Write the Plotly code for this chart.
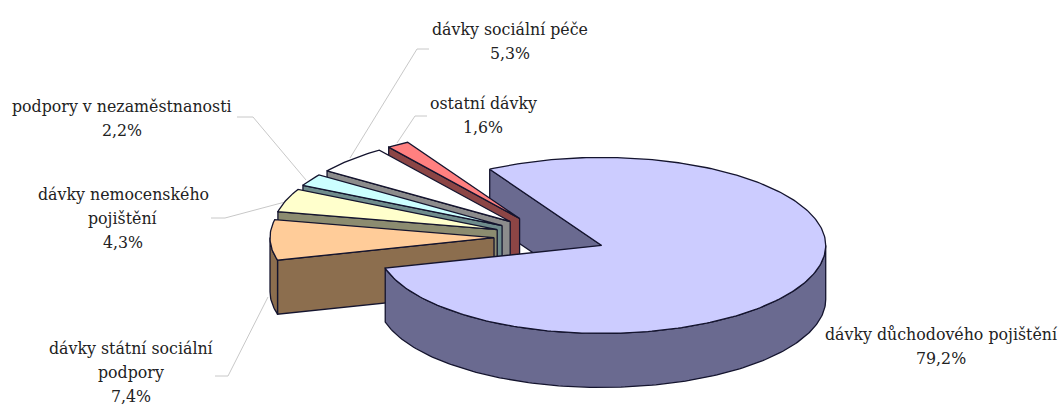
import math
import plotly.graph_objects as go

# Data
categories = ["dávky důchodového pojištění", "dávky státní sociální podpory",
              "dávky nemocenského pojištění", "podpory v nezaměstnanosti",
              "dávky sociální péče", "ostatní dávky"]
shares = [79.2, 7.4, 4.3, 2.2, 5.3, 1.6]
share_labels = ["79,2%", "7,4%", "4,3%", "2,2%", "5,3%", "1,6%"]

# Projection / style
W, H = 1061, 405
CX, CY, RX, RY, DEPTH, EXPL = 550, 237, 224, 88, 54, 0.25
START = 330
TOP = ["#CCCCFF", "#FFCC99", "#FFFFCC", "#CCFFFF", "#FFFFFF", "#FF8080"]
SIDE = ["#6A6A90", "#8C6E4E", "#8C8C70", "#6F8C8C", "#8C8C8C", "#8C4545"]
EDGE = "#14142e"
FONT = dict(family="DejaVu Serif", size=15.8, color="#222222")
LEADER = "#c8c8c8"
LABELS = {  # centre x, first-line y, line break text
    0: (941, 334, ["dávky důchodového pojištění"]),
    1: (131, 348, ["dávky státní sociální", "podpory"]),
    2: (123, 194, ["dávky nemocenského", "pojištění"]),
    3: (122, 106, ["podpory v nezaměstnanosti"]),
    4: (510, 29, ["dávky sociální péče"]),
    5: (483, 103, ["ostatní dávky"]),
}
LINE_GAP = 24
ELBOWS = {
    1: [(215, 376), (228, 376), (268, 297)],
    2: [(211, 218), (225, 218), (285, 202)],
    3: [(237, 117), (253, 117), (306, 180)],
    4: [(429, 49), (417, 49), (350, 158)],
    5: [(427, 116), (415, 116), (397, 143)],
}

# Slice angles come from the shares
spans = []
a = START
for s in shares:
    b = a + s / sum(shares) * 360
    spans.append((a, b))
    a = b


def tip(i):
    a0, a1 = spans[i]
    m = math.radians((a0 + a1) / 2)
    return CX + EXPL * RX * math.sin(m), CY - EXPL * RY * math.cos(m)


def rim(i, a0, a1, n=None):
    tx, ty = tip(i)
    n = n or max(2, int(abs(a1 - a0)))
    pts = []
    for k in range(n + 1):
        t = math.radians(a0 + (a1 - a0) * k / n)
        pts.append((tx + RX * math.sin(t), ty - RY * math.cos(t)))
    return pts


fig = go.Figure()


def face(pts, color):
    xs = [p[0] for p in pts] + [pts[0][0]]
    ys = [p[1] for p in pts] + [pts[0][1]]
    fig.add_trace(go.Scatter(x=xs, y=ys, mode="lines", fill="toself", fillcolor=color,
                             line=dict(color=EDGE, width=1.3), hoverinfo="skip",
                             showlegend=False))


def cut_wall(i, ang):
    tx, ty = tip(i)
    o = rim(i, ang, ang, 1)[0]
    face([(tx, ty), o, (o[0], o[1] + DEPTH), (tx, ty + DEPTH)], SIDE[i])


def outer_wall(i, a0, a1):
    top = rim(i, a0, a1)
    face(top + [(x, y + DEPTH) for x, y in reversed(top)], SIDE[i])


def top_face(i):
    a0, a1 = spans[i]
    face([tip(i)] + rim(i, a0, a1), TOP[i])


# Leader lines
for i, pts in ELBOWS.items():
    fig.add_trace(go.Scatter(x=[p[0] for p in pts], y=[p[1] for p in pts], mode="lines",
                             line=dict(color=LEADER, width=1), hoverinfo="skip",
                             showlegend=False))

# Back cut face of the big slice, then small slices back to front
cut_wall(0, spans[0][0])
for i in [5, 4, 3, 2, 1]:
    a0, a1 = spans[i]
    cut_wall(i, a0)
    if 180 < a0 % 360 < 270:  # outer rim facing the viewer, left of the x extreme
        outer_wall(i, a0, 270 + (a0 - a0 % 360))
    top_face(i)

# Big slice: visible rim then top
outer_wall(0, 360 + 90, spans[0][1])
top_face(0)

# Labels
for i, (x, y, lines) in LABELS.items():
    rows = lines + [share_labels[i]]
    for k, txt in enumerate(rows):
        fig.add_annotation(x=x, y=y + k * LINE_GAP, text=txt, showarrow=False,
                           xanchor="center", yanchor="middle", font=FONT)

fig.update_layout(width=W, height=H, margin=dict(l=0, r=0, t=0, b=0),
                  paper_bgcolor="white", plot_bgcolor="white", showlegend=False,
                  xaxis=dict(range=[0, W], visible=False, fixedrange=True),
                  yaxis=dict(range=[H, 0], visible=False, fixedrange=True))
fig.write_html("out.html", config=dict(displayModeBar=False),
               post_script="document.body.style.margin='0';document.body.style.overflow='hidden';")
